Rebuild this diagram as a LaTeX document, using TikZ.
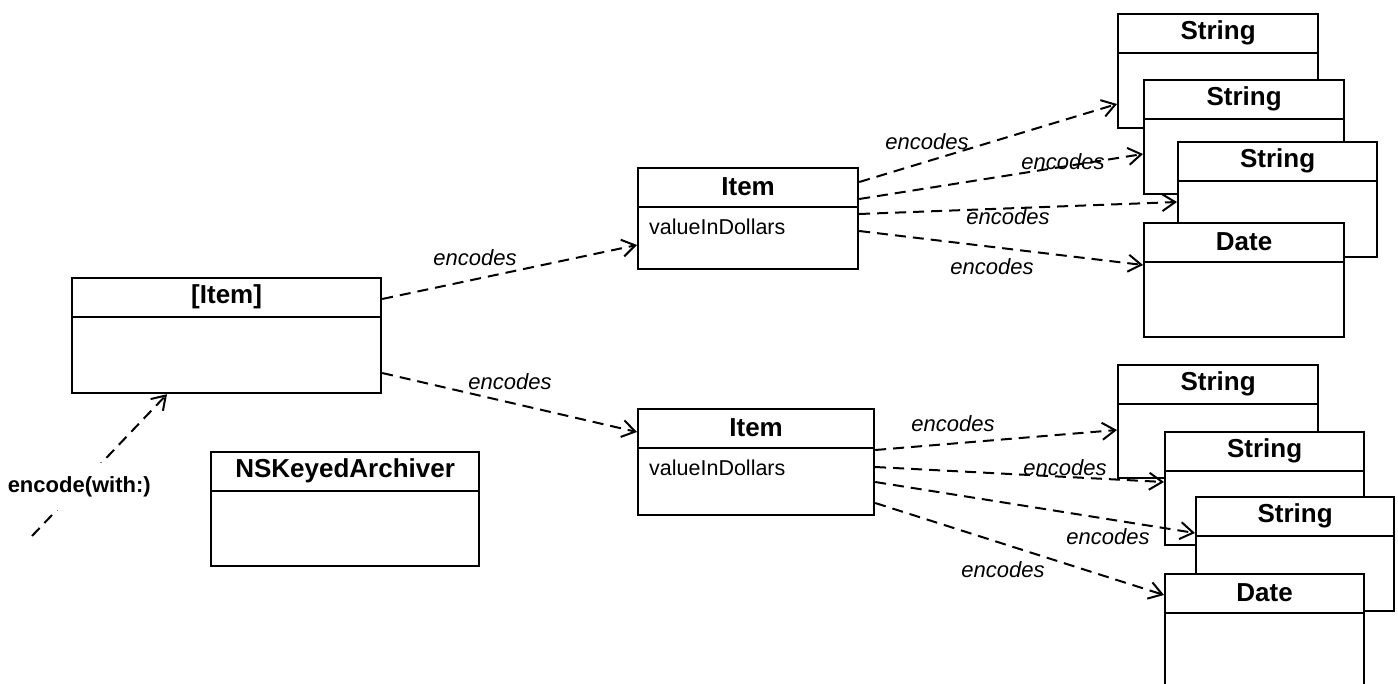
\documentclass[tikz,border=0pt]{standalone}
\usepackage{fontspec}
\setmainfont{Liberation Sans}
\usetikzlibrary{arrows.meta}
\tikzset{
  cls/.style={draw, fill=white, line width=2.2pt, anchor=north west, inner sep=0pt},
  ttl/.style={font=\fontsize{26}{30}\selectfont\bfseries},
  attr/.style={font=\fontsize{21.5}{26}\selectfont, anchor=west, inner sep=0pt},
  dep/.style={-{Straight Barb[length=13pt, width=17pt, line width=2pt]},
              line width=2pt, dash pattern=on 11pt off 7pt},
  lbl/.style={font=\fontsize{22}{26}\selectfont\itshape, inner sep=0pt},
  call/.style={font=\fontsize{22}{26}\selectfont\bfseries, fill=white,
               inner xsep=2pt, inner ysep=13pt}
}
% name, left, top, width, height, title
\newcommand\umlclass[6]{%
  \node[cls, minimum width=#4pt, minimum height=#5pt] (#1) at (#2,#3) {};
  \draw[line width=2.2pt] ([yshift=-40pt]#1.north west) -- ([yshift=-40pt]#1.north east);
  \node[ttl] (#1t) at ([yshift=-20pt]#1.north) {#6};
}

\begin{document}
\begin{tikzpicture}[x=1pt, y=-1pt]
  \fill[white] (0,0) rectangle (1398,683);
  \useasboundingbox (0,0) rectangle (1398,683);
  % classes
  \umlclass{arr}{71}{277}{309}{115}{[Item]}
  \umlclass{ka}{210}{451}{268}{114}{NSKeyedArchiver}
  \umlclass{it1}{637}{167}{220}{101}{Item}
  \node[attr] (v1) at (649,227) {valueInDollars};
  \umlclass{it2}{637}{408}{236}{106}{Item}
  \node[attr] (v2) at (649,468) {valueInDollars};
  \umlclass{s1}{1117}{13}{200}{114}{String}
  \umlclass{s2}{1143}{79}{200}{114}{String}
  \umlclass{s3}{1177}{141}{199}{115}{String}
  \umlclass{d1}{1143}{222}{200}{114}{Date}
  \umlclass{s4}{1117}{364}{200}{113}{String}
  \umlclass{s5}{1164}{431}{199}{113}{String}
  \umlclass{s6}{1195}{496}{198}{114}{String}
  \umlclass{d2}{1164}{573}{199}{114}{Date}
  % connectors
  \coordinate (src) at (32,536);
  \draw[dep] (src) -- node[call, pos=0.35] (enc) {encode(with:)} (arr.south -| 167,0);
  \draw[dep] (arr.east |- 0,299) -- (it1.west |- 0,245);
  \draw[dep] (arr.east |- 0,373) -- (it2.west |- 0,432);
  \draw[dep] (it1.east |- 0,182) -- (s1.west |- 0,104);
  \draw[dep] (it1.east |- 0,199) -- (s2.west |- 0,154);
  \draw[dep] (it1.east |- 0,214) -- (s3.west |- 0,202);
  \draw[dep] (it1.east |- 0,231) -- (d1.west |- 0,265);
  \draw[dep] (it2.east |- 0,450) -- (s4.west |- 0,430);
  \draw[dep] (it2.east |- 0,467) -- (s5.west |- 0,482);
  \draw[dep] (it2.east |- 0,482) -- (s6.west |- 0,533);
  \draw[dep] (it2.east |- 0,503) -- (d2.west |- 0,595);
  % labels
  \node[lbl] (l1) at (475,258) {encodes};
  \node[lbl] (l2) at (510,382) {encodes};
  \node[lbl] (l3) at (927,142) {encodes};
  \node[lbl] (l4) at (1063,162) {encodes};
  \node[lbl] (l5) at (1008,217) {encodes};
  \node[lbl] (l6) at (992,267) {encodes};
  \node[lbl] (l7) at (953,424) {encodes};
  \node[lbl] (l8) at (1065,468) {encodes};
  \node[lbl] (l9) at (1108,537) {encodes};
  \node[lbl] (l10) at (1003,570) {encodes};
\end{tikzpicture}
\end{document}
